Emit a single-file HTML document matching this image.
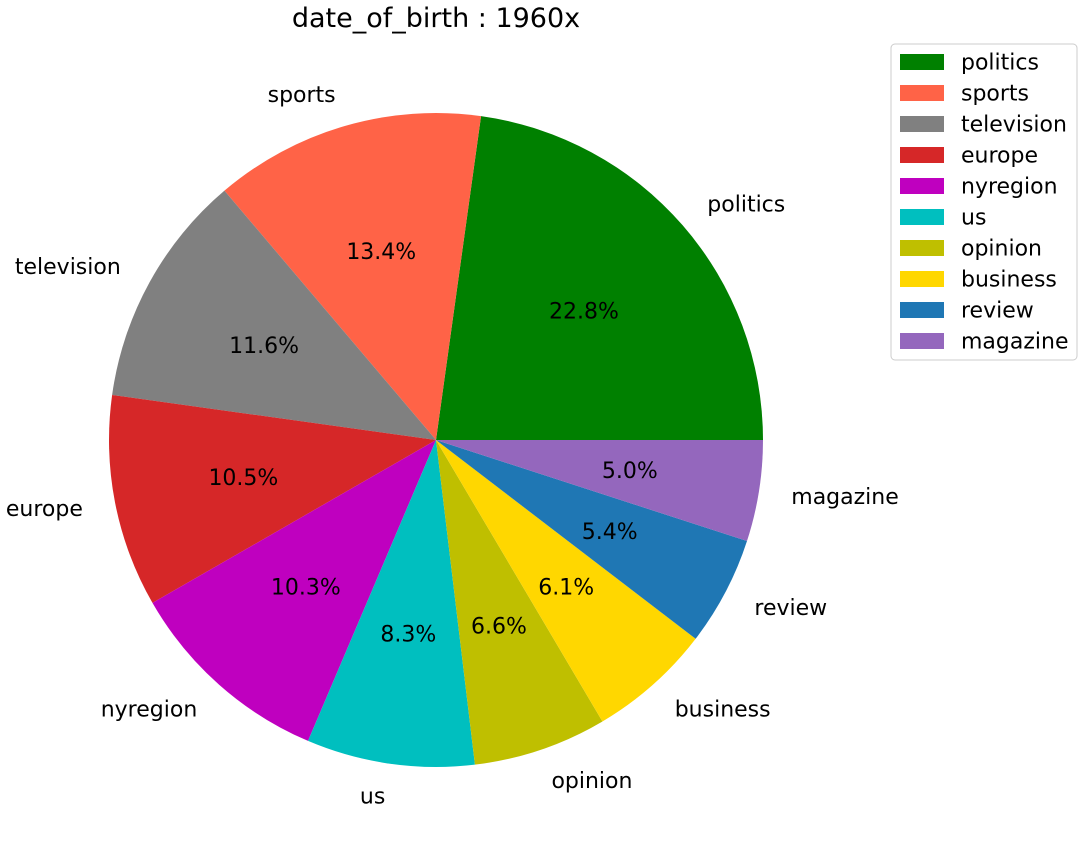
<!DOCTYPE html>
<html><head><meta charset="utf-8"><style>
body{margin:0;background:#fff;}
svg{font-family:"DejaVu Sans","Liberation Sans",sans-serif;}
</style></head><body>
<svg id="chart" width="1085" height="855">
<text x="436" y="27" font-size="27" text-anchor="middle">date_of_birth : 1960x</text>
<g id="slices"></g>
<g id="legend"></g>
</svg>
<script>
const categories=["politics","sports","television","europe","nyregion","us","opinion","business","review","magazine"];
const values=[22.8,13.4,11.6,10.5,10.3,8.3,6.6,6.1,5.4,5.0];
const colors=["#008000","#ff6347","#808080","#d62728","#bf00bf","#00bfbf","#bfbf00","#ffd700","#1f77b4","#9467bd"];
const NS="http://www.w3.org/2000/svg";
const cx=436,cy=440,R=327;
const g=document.getElementById('slices');
const total=values.reduce((a,b)=>a+b,0);
let ang=0;
function pt(a,r){return [cx+r*Math.cos(a),cy-r*Math.sin(a)];}
values.forEach((v,i)=>{
  const a0=ang,a1=ang+v/total*2*Math.PI;ang=a1;
  const p0=pt(a0,R),p1=pt(a1,R);
  const large=(a1-a0)>Math.PI?1:0;
  const path=document.createElementNS(NS,'path');
  path.setAttribute('d',`M${cx},${cy}L${p0[0]},${p0[1]}A${R},${R} 0 ${large} 0 ${p1[0]},${p1[1]}Z`);
  path.setAttribute('fill',colors[i]);
  
  
  g.appendChild(path);
  const m=(a0+a1)/2;
  const lp=pt(m,R*1.1);
  const t=document.createElementNS(NS,'text');
  t.setAttribute('x',lp[0]);t.setAttribute('y',lp[1]+1);
  t.setAttribute('font-size','22');
  t.setAttribute('text-anchor',Math.cos(m)>=0?'start':'end');
  t.setAttribute('dominant-baseline','central');
  t.textContent=categories[i];
  
  
  g.appendChild(t);
  const pp=pt(m,R*0.6);
  const p=document.createElementNS(NS,'text');
  p.setAttribute('x',pp[0]);p.setAttribute('y',pp[1]+1);
  p.setAttribute('font-size','22');
  p.setAttribute('text-anchor','middle');
  p.setAttribute('dominant-baseline','central');
  p.textContent=v.toFixed(1)+'%';
  
  
  g.appendChild(p);
});
const lg=document.getElementById('legend');
const box=document.createElementNS(NS,'rect');
box.setAttribute('x',891);box.setAttribute('y',44);box.setAttribute('width',186);box.setAttribute('height',316);
box.setAttribute('rx',4);box.setAttribute('fill','#fff');box.setAttribute('stroke','#ccc');


lg.appendChild(box);
categories.forEach((c,i)=>{
  const y=62+i*31;
  const r=document.createElementNS(NS,'rect');
  r.setAttribute('x',900);r.setAttribute('y',y-8);r.setAttribute('width',44);r.setAttribute('height',16);
  r.setAttribute('fill',colors[i]);
  
  
  lg.appendChild(r);
  const t=document.createElementNS(NS,'text');
  t.setAttribute('x',961);t.setAttribute('y',y+1);t.setAttribute('font-size','22');
  t.setAttribute('dominant-baseline','central');
  t.textContent=c;
  
  
  lg.appendChild(t);
});
</script>
</body></html>
